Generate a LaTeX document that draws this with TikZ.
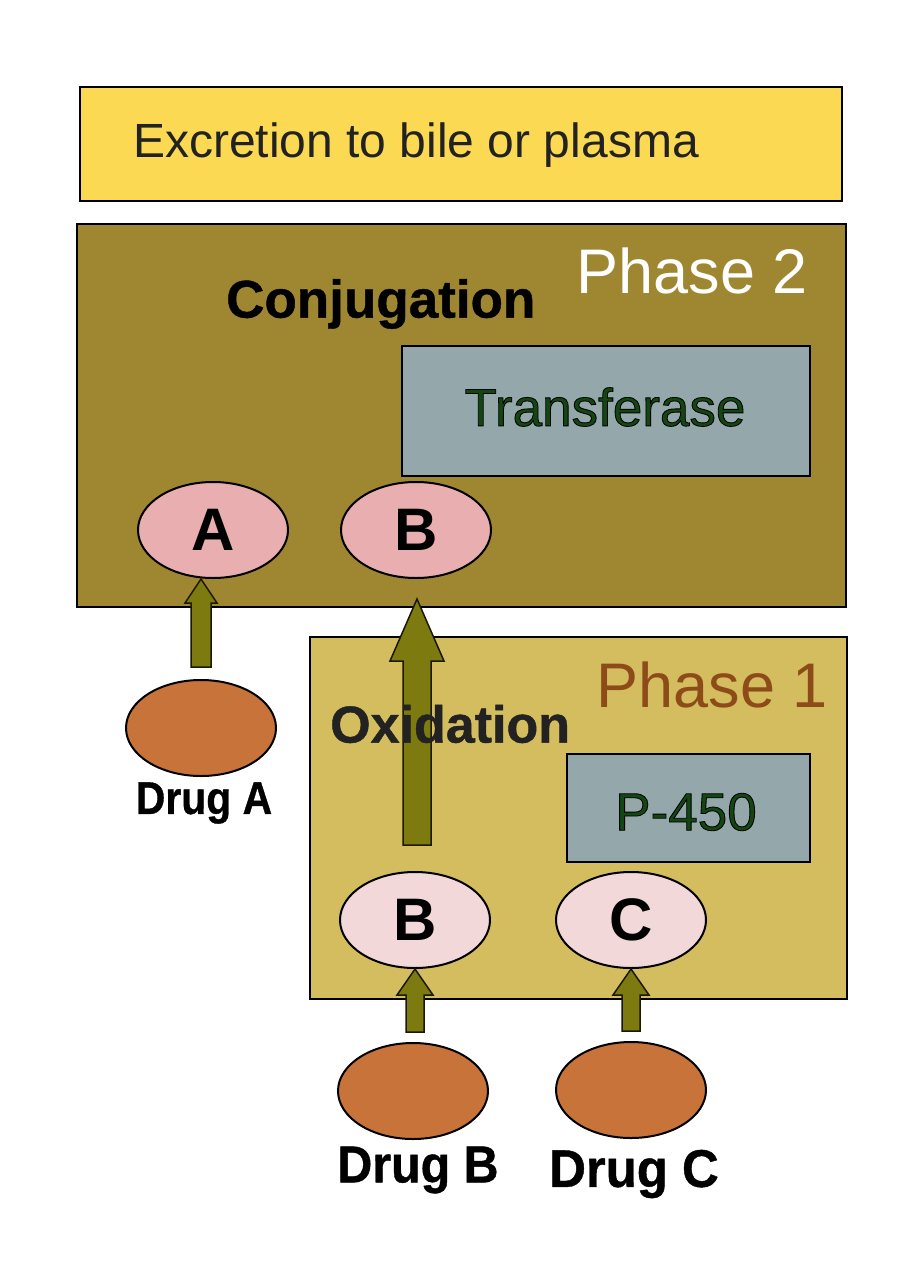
\documentclass[tikz,border=0pt]{standalone}
\usepackage{fontspec}
\setmainfont{Liberation Sans}
\newfontfamily\outlfont[FakeBold=1.6]{Liberation Sans}
\newfontfamily\boldoutl[FakeBold=0.8]{Liberation Sans Bold}
\usetikzlibrary{calc,shapes.geometric}
\definecolor{excr}{RGB}{252,217,82}
\definecolor{ph2}{RGB}{158,135,48}
\definecolor{ph1}{RGB}{211,189,94}
\definecolor{enz}{RGB}{148,167,170}
\definecolor{pinkA}{RGB}{232,174,176}
\definecolor{pinkB}{RGB}{242,216,216}
\definecolor{drug}{RGB}{200,115,57}
\definecolor{arr}{RGB}{125,122,15}
\definecolor{ph1txt}{RGB}{140,75,25}
\definecolor{enztxt}{RGB}{20,70,20}
\definecolor{dark}{RGB}{34,34,34}
\newcommand\fsz[1]{\fontsize{#1}{#1}\selectfont}
\newcommand\blockarr[5]{% from, to, half shaft, half head, head length
  \draw[arrowbody] let \p1=(#1), \p2=(#2) in
    (\x1-#3,\y1) -- (\x1-#3,\y2-#5) -- (\x1-#4,\y2-#5) -- (\x1,\y2)
    -- (\x1+#4,\y2-#5) -- (\x1+#3,\y2-#5) -- (\x1+#3,\y1) -- cycle;}
\tikzset{
  panel/.style={draw=black, line width=2pt, rectangle, inner sep=0pt, anchor=north west},
  mol/.style={ellipse, draw=black, line width=2pt, minimum width=150pt, minimum height=96pt, inner sep=0pt, font=\bfseries\fsz{60}},
  druglbl/.style={inner sep=0pt},
  enzlbl/.style={text=enztxt, inner sep=0pt},
  arrowbody/.style={fill=arr, draw=black!80!arr, line width=1.5pt, line join=miter},
}
\begin{document}
\begin{tikzpicture}[x=1pt,y=-1pt]
\useasboundingbox (0,0) rectangle (900,1273);
\fill[white] (0,0) rectangle (900,1273);
% Excretion
\node[panel, fill=excr, minimum width=762pt, minimum height=114pt] (excr) at (79,86) {};
\node[anchor=west, text=dark, font=\fsz{48}, inner sep=0pt] (excrtxt) at (133,145) {Excretion to bile or plasma};
% Phase 2
\node[panel, fill=ph2, minimum width=769pt, minimum height=383pt] (phase2) at (76,223) {};
\node[anchor=east, text=white, font=\fsz{63}, inner sep=0pt] (ph2lbl) at (808,271) {Phase 2};
\node[anchor=west, text=black, font=\boldoutl\fsz{53}, inner sep=0pt] (conj) at (226,304) {Conjugation};
\node[panel, fill=enz, minimum width=408pt, minimum height=130pt] (transf) at (401,345) {};
\node[enzlbl, font=\outlfont\fsz{53}] (transftxt) at (605,407) {\special{pdf:code 0 0 0 RG}Transferase};
\node[mol, fill=pinkA] (A) at (213,530) {A};
\node[mol, fill=pinkA] (B2) at (416,530) {B};
% Phase 1
\node[panel, fill=ph1, minimum width=537pt, minimum height=362pt] (phase1) at (309,636) {};
\node[anchor=east, text=ph1txt, font=\fsz{63}, inner sep=0pt] (ph1lbl) at (828,685) {Phase 1};
\node[panel, fill=enz, minimum width=243pt, minimum height=108pt] (p450) at (566,753) {};
\node[enzlbl, font=\outlfont\fsz{53}] (p450txt) at (686,812) {\special{pdf:code 0 0 0 RG}P-450};
\node[mol, fill=pinkB] (B1) at (415,920) {B};
\node[mol, fill=pinkB] (C1) at (631,920) {C};
% Drugs
\node[mol, fill=drug] (drugA) at (201,728) {};
\node[druglbl, font=\boldoutl\fsz{46}, xscale=0.89] (drugAlbl) at (204,803) {Drug A};
\node[mol, fill=drug] (drugB) at (413,1091) {};
\node[druglbl, font=\boldoutl\fsz{52}, xscale=0.93] (drugBlbl) at (418,1170) {Drug B};
\node[mol, fill=drug] (drugC) at (631,1090) {};
\node[druglbl, font=\boldoutl\fsz{53}, xscale=0.96] (drugClbl) at (634,1174) {Drug C};
% Arrows
\coordinate (aAs) at ($(drugA.north)+(0,-12)$);
\coordinate (aAt) at ($(A.south)+(-12,0)$);
\blockarr{aAs}{aAt}{10pt}{16pt}{24pt}
\coordinate (aBs) at ($(B1.north)+(2,-26)$);
\coordinate (aBt) at ($(B2.south)+(0,20)$);
\blockarr{aBs}{aBt}{14pt}{27pt}{62pt}
\coordinate (aB1s) at ($(drugB.north)+(2,-10)$);
\coordinate (aB1t) at (B1.south);
\blockarr{aB1s}{aB1t}{9pt}{18pt}{26pt}
\coordinate (aC1s) at ($(drugC.north)+(0,-10)$);
\coordinate (aC1t) at (C1.south);
\blockarr{aC1s}{aC1t}{9pt}{18pt}{26pt}
% text drawn over the big arrow
\node[anchor=west, text=dark, font=\boldoutl\fsz{52}, inner sep=0pt] (oxid) at (330,724) {Oxidation};
\end{tikzpicture}
\end{document}
